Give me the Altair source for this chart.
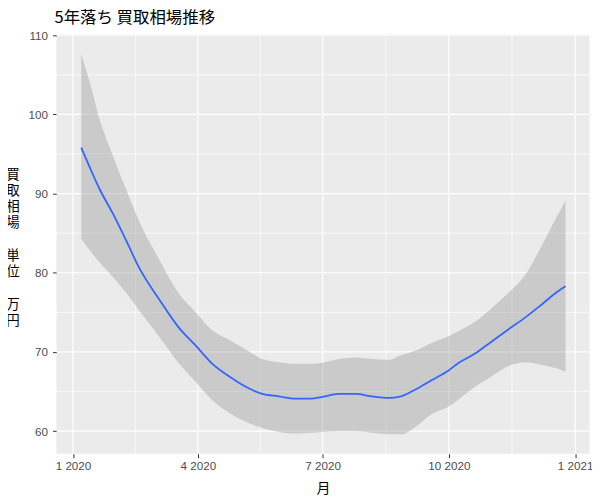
import altair as alt
import pandas as pd

# smoothed fit with confidence band
dates = ["2020-01-07", "2020-01-13", "2020-01-20", "2020-01-30", "2020-02-09", "2020-02-18",
         "2020-03-04", "2020-03-18", "2020-03-31", "2020-04-11", "2020-04-24", "2020-05-06",
         "2020-05-18", "2020-05-30", "2020-06-11", "2020-06-23", "2020-06-30", "2020-07-13",
         "2020-07-25", "2020-08-06", "2020-08-18", "2020-08-27", "2020-09-07", "2020-09-18",
         "2020-10-01", "2020-10-08", "2020-10-20", "2020-11-01", "2020-11-13", "2020-11-26",
         "2020-12-07", "2020-12-19", "2020-12-25"]
fit = [95.8, 93.4, 90.7, 87.5, 84.0, 80.7,
       76.6, 73.1, 70.7, 68.6, 66.9, 65.6,
       64.7, 64.4, 64.1, 64.1, 64.3, 64.7,
       64.7, 64.4, 64.2, 64.4, 65.3, 66.4,
       67.7, 68.6, 69.8, 71.3, 72.8, 74.4,
       75.9, 77.6, 78.3]
lower = [84.3, 82.9, 81.4, 79.5, 77.4, 75.3,
         71.9, 68.6, 66.1, 64.0, 62.3, 61.2,
         60.4, 59.9, 59.7, 59.8, 59.9, 60.0,
         60.0, 59.8, 59.6, 59.6, 60.6, 62.1,
         63.1, 64.0, 65.6, 66.9, 68.2, 68.7,
         68.4, 67.9, 67.5]
upper = [107.6, 104.2, 99.6, 94.8, 90.4, 86.6,
         81.6, 77.4, 74.9, 72.8, 71.5, 70.3,
         69.1, 68.7, 68.5, 68.5, 68.6, 69.1,
         69.3, 69.1, 69.0, 69.6, 70.2, 71.1,
         72.0, 72.6, 73.8, 75.5, 77.4, 79.8,
         83.2, 87.2, 89.1]

y_major = [60, 70, 80, 90, 100, 110]
y_minor = [65, 75, 85, 95, 105]
x_major = ["2020-01-01T00:00:00Z", "2020-04-01T00:00:00Z", "2020-07-01T00:00:00Z",
           "2020-10-01T00:00:00Z", "2021-01-01T00:00:00Z"]
x_minor = ["2020-02-15T12:00:00Z", "2020-05-16T12:00:00Z", "2020-08-16T00:00:00Z",
           "2020-11-16T00:00:00Z"]
# blank separator lines use U+2800 (blank pattern) so they are not collapsed
y_title_lines = ["買", "取", "相", "場", "\u2800", "単", "位", "\u2800", "万", "円"]

df = pd.DataFrame({"date": dates, "fit": fit, "lower": lower, "upper": upper})
gy_major = pd.DataFrame({"v": y_major})
gy_minor = pd.DataFrame({"v": y_minor})
gx_major = pd.DataFrame({"d": x_major})
gx_minor = pd.DataFrame({"d": x_minor})

LAB_FONT = "Liberation Sans"
CJK = "Noto Sans CJK JP"

x_scale = alt.Scale(type="utc",
                    domain=[alt.DateTime(year=2019, month=12, date=20, utc=True),
                            alt.DateTime(year=2021, month=1, date=11, hours=12, utc=True)])
y_scale = alt.Scale(domain=[57.15, 110.1], nice=False, zero=False)

x_axis = alt.Axis(
    title="月", values=[alt.DateTime(year=2020, month=m, date=1, utc=True) for m in (1, 4, 7, 10)]
    + [alt.DateTime(year=2021, month=1, date=1, utc=True)],
    labelExpr="utcFormat(datum.value, '%-m %Y')",
    grid=False, domain=False, ticks=True, tickColor="#333333", tickSize=4, tickWidth=1,
    labelFont=LAB_FONT, labelFontSize=11.7, labelColor="#4D4D4D", labelPadding=3,
    titleFont=CJK, titleFontSize=14, titleFontWeight="normal", titleColor="black",
    titlePadding=9)
y_axis = alt.Axis(
    title=y_title_lines,
    values=y_major, grid=False, domain=False, ticks=True, tickColor="#333333",
    tickSize=4, tickWidth=1,
    labelFont=LAB_FONT, labelFontSize=11.7, labelColor="#4D4D4D", labelPadding=5,
    titleFont=CJK, titleFontSize=13.5, titleFontWeight="normal", titleColor="black",
    titleAngle=0, titleAlign="center", titleBaseline="middle",
    titleX=-44.2, titleY=140.5, titleLineHeight=16.3)


def X(field):
    return alt.X(field, type="temporal", scale=x_scale, axis=x_axis)


def Y(field):
    return alt.Y(field, type="quantitative", scale=y_scale, axis=y_axis)


grid_y_minor = alt.Chart(gy_minor).mark_rule(color="white", strokeWidth=0.7).encode(y=Y("v"))
grid_y_major = alt.Chart(gy_major).mark_rule(color="white", strokeWidth=1.2).encode(y=Y("v"))
grid_x_minor = alt.Chart(gx_minor).mark_rule(color="white", strokeWidth=0.7).encode(x=X("d"))
grid_x_major = alt.Chart(gx_major).mark_rule(color="white", strokeWidth=1.2).encode(x=X("d"))

band = alt.Chart(df).mark_area(color="#999999", opacity=0.4, interpolate="monotone").encode(
    x=X("date"), y=Y("lower"), y2="upper")
line = alt.Chart(df).mark_line(color="#3366FF", strokeWidth=1.8, interpolate="monotone").encode(
    x=X("date"), y=Y("fit"))

chart = alt.layer(grid_y_minor, grid_y_major, grid_x_minor, grid_x_major, band, line).properties(
    width=535, height=421,
    padding={"left": 48.7, "top": 25.5, "right": 2.5, "bottom": 44},
    autosize=alt.AutoSizeParams(type="none"),
    background="white",
    title=alt.TitleParams("5年落ち 買取相場推移", anchor="start", frame="group", fontSize=16.5,
                          fontWeight="normal", color="black", font=CJK, offset=4, dx=-2),
).configure_view(fill="#EBEBEB", strokeWidth=0)

chart.save("out.html", embed_options={"renderer": "svg", "actions": False})
